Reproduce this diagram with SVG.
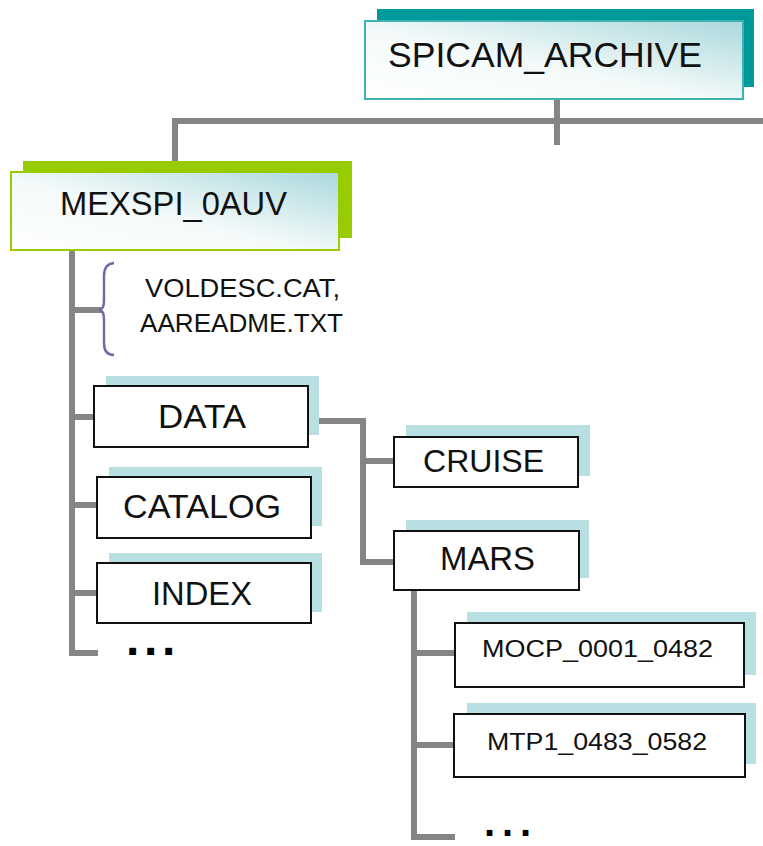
<svg xmlns="http://www.w3.org/2000/svg" width="763" height="846" viewBox="0 0 763 846">
  <defs>
    <linearGradient id="gFront" x1="0" y1="1" x2="1" y2="0">
      <stop offset="0" stop-color="#ffffff"/>
      <stop offset="0.45" stop-color="#f4fafa"/>
      <stop offset="1" stop-color="#aad8dc"/>
    </linearGradient>
    <style>
      .lbl { font-family: "Liberation Sans", Arial, sans-serif; fill: #111; text-anchor: start; }
      .box { fill: #ffffff; stroke: #111; stroke-width: 2; }
      .shadow { fill: #b8dfe2; }
      .conn { fill: none; stroke: #858585; stroke-width: 6; stroke-linejoin: miter; stroke-linecap: butt; }
      .dots { font-family: "Liberation Sans", Arial, sans-serif; font-weight: bold; font-size: 48px; letter-spacing: 4.7px; fill: #000; }
      .dots2 { font-family: "Liberation Sans", Arial, sans-serif; font-weight: bold; font-size: 40px; letter-spacing: 6.9px; fill: #000; }
    </style>
  </defs>
  <rect width="763" height="846" fill="#ffffff"/>

  <g id="connectors">
    <path class="conn" d="M175 161 V121 H763"/>
    <path class="conn" d="M557 99 V145"/>
    <path class="conn" d="M72 250 V653 H98"/>
    <path class="conn" d="M72 310 H102"/>
    <path class="conn" d="M72 417 H94"/>
    <path class="conn" d="M72 505 H97"/>
    <path class="conn" d="M72 593 H97"/>
    <path class="conn" d="M305 421 H363 V562 H394"/>
    <path class="conn" d="M363 461 H394"/>
    <path class="conn" d="M414 590 V837 H455"/>
    <path class="conn" d="M414 653 H455"/>
    <path class="conn" d="M414 745 H454"/>
  </g>

  <g id="spicam_archive">
    <rect x="377" y="9" width="377" height="78" fill="#009999"/>
    <rect x="365" y="21" width="378" height="78" fill="url(#gFront)" stroke="#3fb3b3" stroke-width="2"/>
    <text class="lbl" x="388" y="67" font-size="35" textLength="314" lengthAdjust="spacingAndGlyphs">SPICAM_ARCHIVE</text>
  </g>

  <g id="mexspi_0auv">
    <rect x="23" y="161" width="329" height="77" fill="#99cc00"/>
    <rect x="11" y="172" width="328" height="78" fill="url(#gFront)" stroke="#99cc00" stroke-width="2"/>
    <text class="lbl" x="60" y="215" font-size="34" textLength="227" lengthAdjust="spacingAndGlyphs">MEXSPI_0AUV</text>
  </g>

  <g id="files">
    <path d="M114 263 Q104 264 104 276 L104 300 Q104 310 99 310 Q104 310 104 320 L104 343 Q104 355 114 355" fill="none" stroke="#6c6caa" stroke-width="2.5"/>
    <text class="lbl" x="145" y="297" font-size="26" textLength="195" lengthAdjust="spacingAndGlyphs">VOLDESC.CAT,</text>
    <text class="lbl" x="140" y="332" font-size="26" textLength="203" lengthAdjust="spacingAndGlyphs">AAREADME.TXT</text>
  </g>

  <g id="data">
    <rect class="shadow" x="106" y="376" width="213" height="59"/>
    <rect class="box" x="94" y="386" width="214" height="61"/>
    <text class="lbl" x="158" y="428" font-size="33" textLength="88" lengthAdjust="spacingAndGlyphs">DATA</text>
  </g>

  <g id="catalog">
    <rect class="shadow" x="109" y="467" width="213" height="59"/>
    <rect class="box" x="97" y="477" width="214" height="61"/>
    <text class="lbl" x="123" y="518" font-size="33" textLength="158" lengthAdjust="spacingAndGlyphs">CATALOG</text>
  </g>

  <g id="index">
    <rect class="shadow" x="109" y="553" width="213" height="59"/>
    <rect class="box" x="97" y="563" width="214" height="60"/>
    <text class="lbl" x="152" y="605" font-size="33" textLength="100" lengthAdjust="spacingAndGlyphs">INDEX</text>
  </g>

  <g id="more_root">
    <text class="dots" x="126" y="655">...</text>
  </g>

  <g id="cruise">
    <rect class="shadow" x="406" y="425" width="184" height="51"/>
    <rect class="box" x="394" y="437" width="184" height="50"/>
    <text class="lbl" x="423" y="472" font-size="32" textLength="121" lengthAdjust="spacingAndGlyphs">CRUISE</text>
  </g>

  <g id="mars">
    <rect class="shadow" x="406" y="520" width="183" height="58"/>
    <rect class="box" x="394" y="531" width="185" height="59"/>
    <text class="lbl" x="440" y="570" font-size="33" textLength="95" lengthAdjust="spacingAndGlyphs">MARS</text>
  </g>

  <g id="mocp_0001_0482">
    <rect class="shadow" x="467" y="612" width="289" height="63"/>
    <rect class="box" x="455" y="623" width="289" height="64"/>
    <text class="lbl" x="482" y="657" font-size="24" textLength="231" lengthAdjust="spacingAndGlyphs">MOCP_0001_0482</text>
  </g>

  <g id="mtp1_0483_0582">
    <rect class="shadow" x="467" y="703" width="289" height="61"/>
    <rect class="box" x="454" y="714" width="291" height="63"/>
    <text class="lbl" x="487" y="750" font-size="24" textLength="220" lengthAdjust="spacingAndGlyphs">MTP1_0483_0582</text>
  </g>

  <g id="more_mars">
    <text class="dots2" x="484" y="836">...</text>
  </g>
</svg>
